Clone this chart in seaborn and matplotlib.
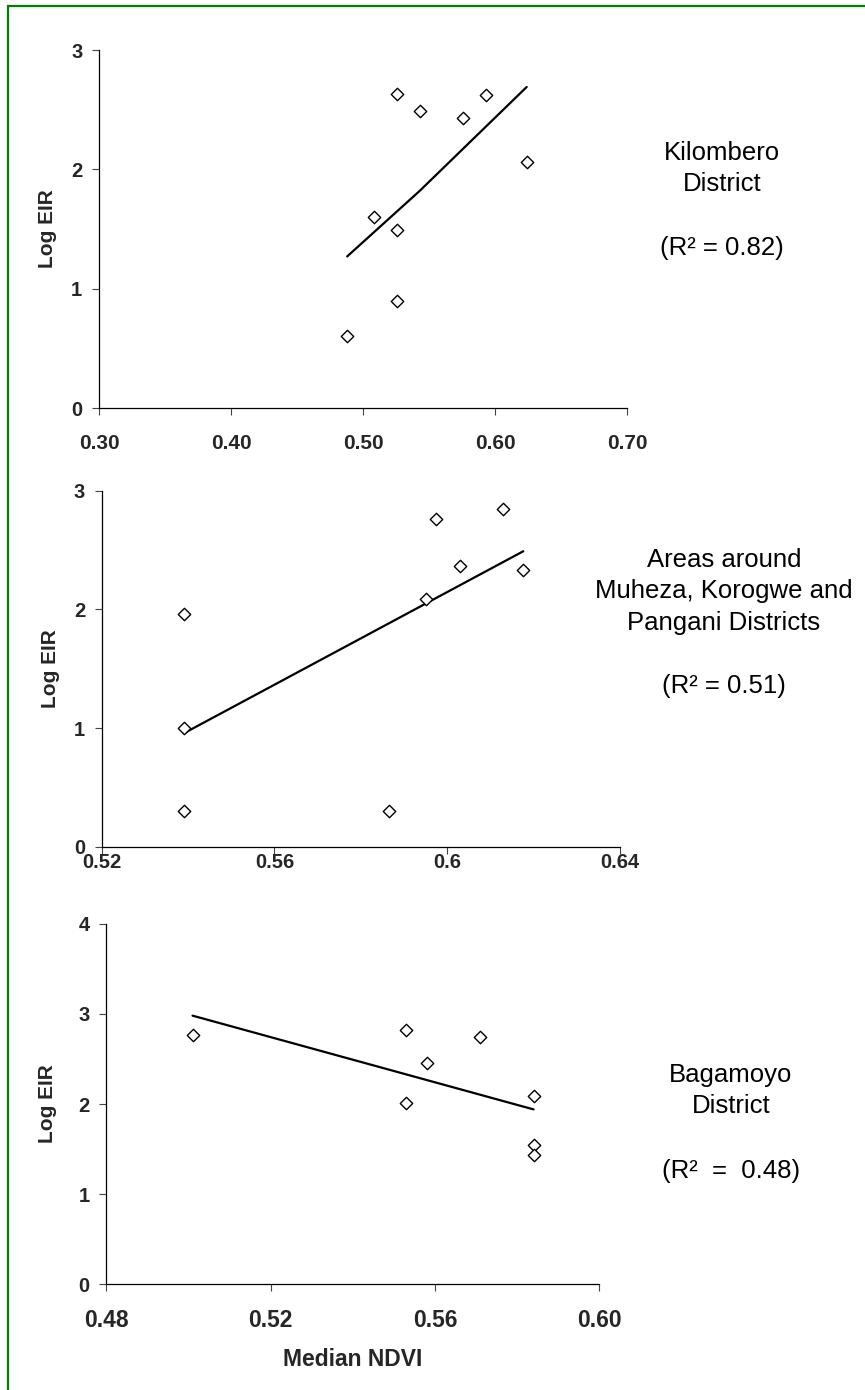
import numpy as np
import pandas as pd
import seaborn as sns
import matplotlib.pyplot as plt
from matplotlib.patches import Rectangle

# ------------------- Data -------------------
# Kilombero District
kil_ndvi = [0.488, 0.508, 0.526, 0.526, 0.526, 0.543, 0.576, 0.593, 0.624]
kil_eir = [0.60, 1.60, 1.49, 0.90, 2.63, 2.49, 2.43, 2.62, 2.06]
kil_fit_x = [0.488, 0.543, 0.624]
kil_fit_y = [1.27, 1.82, 2.69]

# Muheza, Korogwe and Pangani
mkp_ndvi = [0.539, 0.539, 0.539, 0.5865, 0.595, 0.5975, 0.603, 0.613, 0.6175]
mkp_eir = [1.96, 1.00, 0.30, 0.30, 2.09, 2.76, 2.37, 2.85, 2.33]
mkp_fit_x = [0.539, 0.6176]
mkp_fit_y = [0.957, 2.49]

# Bagamoyo District
bag_ndvi = [0.501, 0.553, 0.553, 0.558, 0.571, 0.584, 0.584, 0.584]
bag_eir = [2.76, 2.82, 2.01, 2.45, 2.74, 2.09, 1.55, 1.43]
bag_fit_x = [0.501, 0.584]
bag_fit_y = [2.98, 1.94]

kil_xticks = [0.30, 0.40, 0.50, 0.60, 0.70]
kil_xlabels = ["0.30", "0.40", "0.50", "0.60", "0.70"]
mkp_xticks = [0.52, 0.56, 0.60, 0.64]
mkp_xlabels = ["0.52", "0.56", "0.6", "0.64"]
bag_xticks = [0.48, 0.52, 0.56, 0.60]
bag_xlabels = ["0.48", "0.52", "0.56", "0.60"]

sns.set_style("ticks")
plt.rcParams['font.family'] = ['Liberation Sans', 'DejaVu Sans']

fig = plt.figure(figsize=(8.65, 13.9), dpi=100)

W, H = 865, 1390


def make_axes(left, right, top, bottom):
    return fig.add_axes([left / W, 1 - bottom / H, (right - left) / W, (bottom - top) / H])


ax1 = make_axes(99, 627, 50, 408)
ax2 = make_axes(101.7, 620, 490.7, 847)
ax3 = make_axes(106.3, 599.3, 923.7, 1284.3)

panels = [
    (ax1, kil_ndvi, kil_eir, kil_fit_x, kil_fit_y, kil_xticks, kil_xlabels, (0.30, 0.70), (0, 3), 15, 13.5, -0.080),
    (ax2, mkp_ndvi, mkp_eir, mkp_fit_x, mkp_fit_y, mkp_xticks, mkp_xlabels, (0.52, 0.64), (0, 3), 14.5, -1, -0.080),
    (ax3, bag_ndvi, bag_eir, bag_fit_x, bag_fit_y, bag_xticks, bag_xlabels, (0.48, 0.60), (0, 4), 16.5, 13, -0.100),
]

for ax, xs, ys, fx, fy, xt, xl, xlim, ylim, xfs, xpad, ylx in panels:
    df = pd.DataFrame({"ndvi": xs, "eir": ys})
    fit = pd.DataFrame({"ndvi": fx, "eir": fy})
    sns.lineplot(data=fit, x="ndvi", y="eir", ax=ax, color="black", lw=1.6, sort=False)
    sns.scatterplot(data=df, x="ndvi", y="eir", ax=ax, marker="D", s=40,
                    facecolor="white", edgecolor="black", linewidth=1.0, zorder=3)
    ax.set_xlim(*xlim)
    ax.set_ylim(*ylim)
    ax.set_xticks(xt)
    ax.set_xticklabels(xl, fontsize=xfs, fontweight="bold")
    ax.set_yticks(range(ylim[0], ylim[1] + 1))
    ax.set_yticklabels([str(v) for v in range(ylim[0], ylim[1] + 1)], fontsize=14.5, fontweight="bold")
    ax.tick_params(axis="x", length=5, width=0.8, color="#444444", pad=xpad)
    ax.tick_params(axis="y", length=5, width=0.8, color="#444444", pad=7)
    for side in ["top", "right"]:
        ax.spines[side].set_visible(False)
    for side in ["left", "bottom"]:
        ax.spines[side].set_color("black")
        ax.spines[side].set_linewidth(0.9)
    ax.set_ylabel("Log EIR", fontsize=15, fontweight="bold")
    ax.yaxis.set_label_coords(ylx, 0.5)
    ax.set_xlabel("")
    ax.set_facecolor("white")

ax3.set_xlabel("Median NDVI", fontsize=16.5, fontweight="bold", va="top")
ax3.xaxis.set_label_coords(0.5, -0.177)

# Right-hand annotations
notes = [
    (722, [("Kilombero", 160), ("District", 190.7), ("(R\u00b2 = 0.82)", 255)]),
    (724, [("Areas around", 566.7), ("Muheza, Korogwe and", 598.3),
           ("Pangani Districts", 630), ("(R\u00b2 = 0.51)", 693.3)]),
    (731, [("Bagamoyo", 1081.7), ("District", 1113.3), ("(R\u00b2  =  0.48)", 1177.7)]),
]
for cx, lines in notes:
    for txt, base in lines:
        fig.text(cx / W, 1 - base / H, txt, ha="center", va="baseline", fontsize=18.5, color="black")

# Green frame (top and left edges visible)
fig.add_artist(Rectangle((8 / W, -0.1), 1.2, 1.1 - 6 / H, transform=fig.transFigure,
                         fill=False, edgecolor="#008000", lw=1.6))

fig.savefig("out.png", dpi=100, facecolor="white")
